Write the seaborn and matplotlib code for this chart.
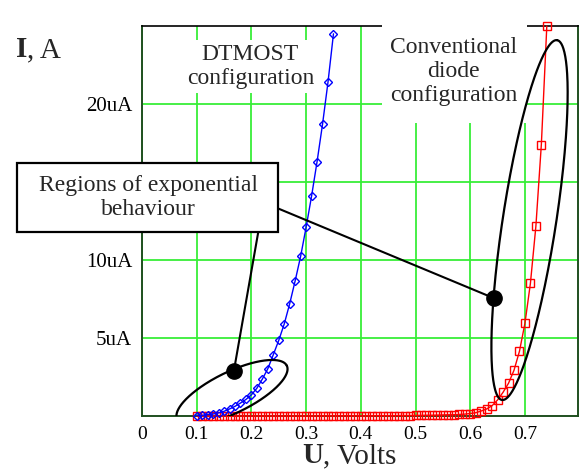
import numpy as np
import matplotlib
matplotlib.use("Agg")
import matplotlib.pyplot as plt
import seaborn as sns
from matplotlib.patches import Rectangle

# DTMOST configuration (blue diamonds), current in uA
dtmost_u = [0.10, 0.11, 0.12, 0.13, 0.14, 0.15, 0.16, 0.17, 0.18, 0.19,
            0.20, 0.21, 0.22, 0.23, 0.24, 0.25, 0.26, 0.27, 0.28, 0.29,
            0.30, 0.31, 0.32, 0.33, 0.34, 0.35]
dtmost_i = [0.03, 0.05, 0.09, 0.13, 0.20, 0.30, 0.45, 0.62, 0.83, 1.06,
            1.36, 1.78, 2.37, 3.03, 3.93, 4.85, 5.90, 7.20, 8.67, 10.24,
            12.10, 14.10, 16.30, 18.70, 21.40, 24.50]

# conventional diode configuration (red squares), current in uA
diode_u = [0.10, 0.11, 0.12, 0.13, 0.14, 0.15, 0.16, 0.17, 0.18, 0.19,
           0.20, 0.21, 0.22, 0.23, 0.24, 0.25, 0.26, 0.27, 0.28, 0.29,
           0.30, 0.31, 0.32, 0.33, 0.34, 0.35, 0.36, 0.37, 0.38, 0.39,
           0.40, 0.41, 0.42, 0.43, 0.44, 0.45, 0.46, 0.47, 0.48, 0.49,
           0.50, 0.51, 0.52, 0.53, 0.54, 0.55, 0.56, 0.57, 0.58, 0.59,
           0.60, 0.61, 0.62, 0.63, 0.64, 0.65, 0.66, 0.67, 0.68, 0.69,
           0.70, 0.71, 0.72, 0.73, 0.74]
diode_i = [0.00, 0.00, 0.00, 0.00, 0.00, 0.00, 0.00, 0.00, 0.00, 0.00,
           0.00, 0.00, 0.00, 0.00, 0.00, 0.00, 0.00, 0.00, 0.00, 0.00,
           0.00, 0.00, 0.00, 0.01, 0.01, 0.01, 0.01, 0.01, 0.01, 0.01,
           0.01, 0.01, 0.01, 0.02, 0.02, 0.02, 0.02, 0.03, 0.03, 0.03,
           0.04, 0.04, 0.05, 0.05, 0.06, 0.07, 0.08, 0.08, 0.10, 0.12,
           0.16, 0.21, 0.32, 0.45, 0.66, 1.03, 1.52, 2.10, 2.93, 4.15,
           5.94, 8.50, 12.16, 17.40, 25.00]

x_ticks = [0, 0.1, 0.2, 0.3, 0.4, 0.5, 0.6, 0.7]
x_tick_labels = ["0", "0.1", "0.2", "0.3", "0.4", "0.5", "0.6", "0.7"]
# the 15uA label sits under the callout box in the original
y_ticks = [5, 10, 15, 20]
y_tick_labels = ["5uA", "10uA", "", "20uA"]

sns.set_theme(style="white")
plt.rcParams["font.family"] = ["Liberation Serif", "DejaVu Serif"]

fig = plt.figure(figsize=(5.84, 4.72), dpi=100)
ax = fig.add_axes([142 / 584, 56 / 472, 436 / 584, 390 / 472])

x_max, y_max = 0.797, 25
ax.set_xlim(0, x_max)
ax.set_ylim(0, y_max)
px_x = 436 / x_max   # pixels per volt
px_y = 390 / y_max   # pixels per uA

ax.set_xticks(x_ticks, x_tick_labels)
ax.set_yticks(y_ticks, y_tick_labels)
ax.tick_params(length=0, pad=7, labelcolor="black")
ax.tick_params(axis="x", labelsize=14)
ax.tick_params(axis="y", labelsize=15)
ax.grid(True, color="#38ee38", lw=1.3)
ax.set_axisbelow(True)
for side in ["left", "right", "bottom"]:
    ax.spines[side].set_color("#1f4f1f")
    ax.spines[side].set_linewidth(1.4)
ax.spines["top"].set_color("black")
ax.spines["top"].set_linewidth(1.2)

sns.lineplot(x=diode_u, y=diode_i, ax=ax, color="red", lw=1, marker="s",
             ms=5.5, mfc="none", mec="red", mew=1, clip_on=False, zorder=3)
sns.lineplot(x=dtmost_u, y=dtmost_i, ax=ax, color="blue", lw=1, marker="D",
             ms=4.2, mfc="none", mec="blue", mew=1, clip_on=False, zorder=4)
ax.set_xlabel("")
ax.set_ylabel("")

# text labels with white background (they hide the grid behind them)
ax.text(0.198, 22.4, "DTMOST\nconfiguration", ha="center", va="center",
        fontsize=17, zorder=5,
        bbox=dict(boxstyle="square,pad=0.15", fc="white", ec="none"))
ax.add_patch(Rectangle((0.438, 18.78), 0.265, 6.5, fc="white", ec="none",
                       clip_on=False, zorder=5))
ax.text(0.570, 22.1, "Conventional\ndiode\nconfiguration", ha="center",
        va="center", fontsize=17, zorder=5)


def ellipse_xy(cx, cy, a, b, angle):
    # a, b in pixels, angle in degrees on screen; returns data coords
    t = np.linspace(0, 2 * np.pi, 400)
    th = np.deg2rad(angle)
    u, v = a * np.cos(t), b * np.sin(t)
    dx = u * np.cos(th) - v * np.sin(th)
    dy = u * np.sin(th) + v * np.cos(th)
    return cx + dx / px_x, cy + dy / px_y


ex, ey = ellipse_xy(0.1645, 1.51, 61, 20.5, 26)
ax.plot(ex, ey, color="black", lw=1.6, zorder=6)
ex, ey = ellipse_xy(0.7084, 12.56, 182, 26.7, 81.3)
ax.plot(ex, ey, color="black", lw=1.6, zorder=6)

# callout box and leader lines
ax.add_patch(Rectangle((-0.228, 11.81), 0.477, 4.39, fc="white", ec="black",
                       lw=1.6, clip_on=False, zorder=7))
ax.text(0.011, 14.0, "Regions of exponential\nbehaviour", ha="center",
        va="center", fontsize=17, zorder=8)
ax.plot([0.2126, 0.168], [11.81, 2.9], color="black", lw=1.5, zorder=6)
ax.plot([0.249, 0.6435], [13.3, 7.55], color="black", lw=1.5, zorder=6)
ax.plot([0.168, 0.6435], [2.9, 7.55], "o", color="black", ms=11, zorder=7)

# axis titles: bold letter followed by normal text
renderer = fig.canvas.get_renderer()
t1 = fig.text(16 / 584, 1 - 57 / 472, "I", fontsize=21, fontweight="bold",
              va="baseline")
bb = t1.get_window_extent(renderer)
fig.text(bb.x1 / 584, 1 - 57 / 472, ", A", fontsize=21, va="baseline")
t2 = fig.text(302 / 584, 1 - 463 / 472, "U", fontsize=21, fontweight="bold",
              va="baseline")
bb = t2.get_window_extent(renderer)
fig.text(bb.x1 / 584, 1 - 463 / 472, ", Volts", fontsize=21, va="baseline")

fig.savefig("out.png", dpi=100)
